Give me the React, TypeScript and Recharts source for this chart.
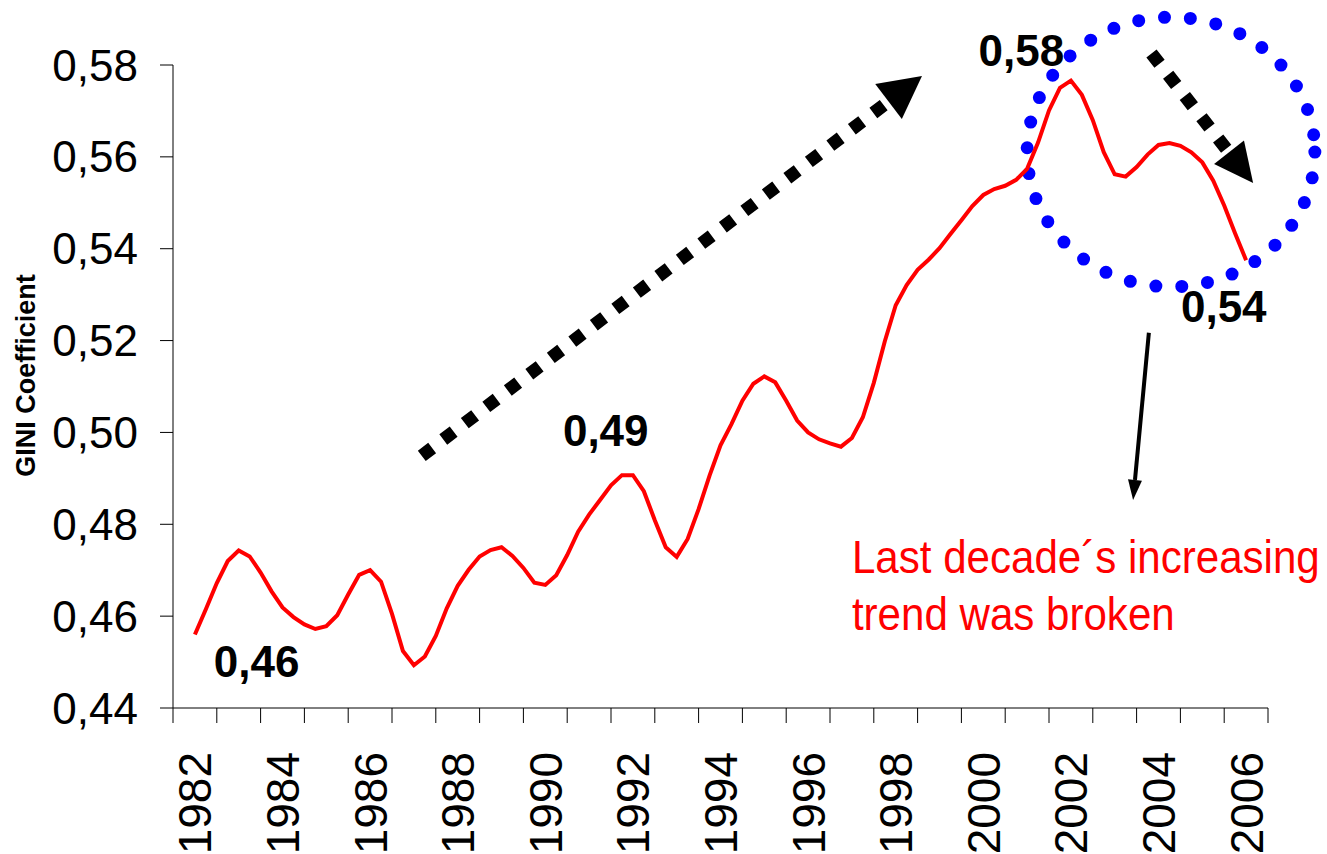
import React from "react";
import { LineChart, Line, XAxis, YAxis, ReferenceLine, ReferenceDot, ReferenceArea } from "recharts";

// GINI coefficient, quarterly readings starting 1982
const startYear = 1982;
const giniQuarterly = [
  0.456, 0.4615, 0.4672, 0.472,
  0.4743, 0.473, 0.4695, 0.4654,
  0.4619, 0.4598, 0.4582, 0.4572,
  0.4578, 0.4602, 0.4647, 0.469,
  0.47, 0.4675, 0.4605, 0.4524,
  0.4493, 0.4512, 0.4557, 0.4617,
  0.4666, 0.4701, 0.473, 0.4744,
  0.475, 0.4731, 0.4705, 0.4673,
  0.4668, 0.4689, 0.4733, 0.4784,
  0.4821, 0.4853, 0.4885, 0.4907,
  0.4907, 0.4872, 0.4809, 0.475,
  0.4729, 0.4768, 0.4833, 0.4906,
  0.4972, 0.5018, 0.5069, 0.5106,
  0.5122, 0.5109, 0.5069, 0.5026,
  0.5, 0.4985, 0.4976, 0.4969,
  0.4988, 0.5033, 0.5108, 0.5198,
  0.5277, 0.5321, 0.5354, 0.5376,
  0.5401, 0.5432, 0.5462, 0.5493,
  0.5517, 0.553, 0.5537, 0.555,
  0.5574, 0.5631, 0.5701, 0.575,
  0.5766, 0.5735, 0.568, 0.561,
  0.5562, 0.5557, 0.5578, 0.5605,
  0.5626, 0.563, 0.5624, 0.561,
  0.5588, 0.5548, 0.5494, 0.5433,
  0.5375,
];

const years = [
  1982, 1983, 1984, 1985, 1986, 1987, 1988, 1989, 1990, 1991, 1992, 1993,
  1994, 1995, 1996, 1997, 1998, 1999, 2000, 2001, 2002, 2003, 2004, 2005, 2006,
];
const labelYears = [1982, 1984, 1986, 1988, 1990, 1992, 1994, 1996, 1998, 2000, 2002, 2004, 2006];
const yTicks = [0.44, 0.46, 0.48, 0.5, 0.52, 0.54, 0.56, 0.58];

// callouts
const peakLabels = [
  { t: 1983.41, v: 0.4503, text: "0,46" },
  { t: 1991.38, v: 0.5006, text: "0,49" },
  { t: 2000.87, v: 0.5833, text: "0,58" },
  { t: 2005.49, v: 0.5276, text: "0,54" },
];
const noteLines = [
  { t: 1997.0, v: 0.4694, text: "Last decade\u00b4s increasing" },
  { t: 1997.0, v: 0.457, text: "trend was broken" },
];

const data = giniQuarterly.map((g, i) => ({ t: startYear + i / 4, gini: g }));
const yearEdges = [...years.map((y) => y - 0.5), years[years.length - 1] + 0.5];
const xDomain = [yearEdges[0], yearEdges[yearEdges.length - 1]];

const FONT = "'Liberation Sans', Arial, sans-serif";

const dottedArrow = (headLen: number, headHalf: number) => (p: any) => {
  const { x1, y1, x2, y2 } = p;
  const dx = x2 - x1;
  const dy = y2 - y1;
  const len = Math.hypot(dx, dy);
  const ux = dx / len;
  const uy = dy / len;
  const bx = x2 - ux * headLen;
  const by = y2 - uy * headLen;
  const nx = -uy;
  const ny = ux;
  return (
    <g>
      <line x1={x1} y1={y1} x2={bx} y2={by} stroke="#000" strokeWidth={13} strokeDasharray="13 14" />
      <polygon
        points={`${x2},${y2} ${bx + nx * headHalf},${by + ny * headHalf} ${bx - nx * headHalf},${by - ny * headHalf}`}
        fill="#000"
      />
    </g>
  );
};

const thinArrow = (p: any) => {
  const { x1, y1, x2, y2 } = p;
  const dx = x2 - x1;
  const dy = y2 - y1;
  const len = Math.hypot(dx, dy);
  const ux = dx / len;
  const uy = dy / len;
  const bx = x2 - ux * 20;
  const by = y2 - uy * 20;
  return (
    <g>
      <line x1={x1} y1={y1} x2={bx} y2={by} stroke="#000" strokeWidth={4} />
      <polygon points={`${x2},${y2} ${bx - uy * 7},${by + ux * 7} ${bx + uy * 7},${by - ux * 7}`} fill="#000" />
    </g>
  );
};

const YearTick = (props: any) => {
  const { x, y, payload } = props;
  return (
    <text
      x={x}
      y={y}
      dy="0.36em"
      textAnchor="end"
      transform={`rotate(-90, ${x}, ${y})`}
      fontSize={46}
      fontFamily={FONT}
      fill="#000"
    >
      {payload.value}
    </text>
  );
};

export default function App() {
  return (
    <div style={{ position: "absolute", left: 0, top: 0, background: "#fff" }}>
      <LineChart width={1327} height={854} data={data} margin={{ top: 65, right: 59, bottom: 0, left: 0 }}>
        <XAxis
          type="number"
          dataKey="t"
          domain={xDomain}
          ticks={yearEdges}
          interval={0}
          tick={{ fontSize: 0, fill: "none" }}
          tickFormatter={() => ""}
          height={15}
          tickSize={15}
          tickMargin={0}
          stroke="#000"
          allowDataOverflow
        />
        <XAxis
          xAxisId="labels"
          type="number"
          dataKey="t"
          domain={xDomain}
          ticks={labelYears}
          interval={0}
          height={131}
          axisLine={false}
          tickLine={false}
          tickSize={0}
          tickMargin={29}
          tick={<YearTick />}
        />
        <YAxis
          type="number"
          domain={[0.44, 0.58]}
          ticks={yTicks}
          interval={0}
          width={173}
          tickSize={13}
          tickMargin={22}
          stroke="#000"
          allowDataOverflow
          tick={{ fontSize: 44, fontFamily: FONT, fill: "#000" }}
          tickFormatter={(v: number) => v.toFixed(2).replace(".", ",")}
          label={(p: any) => {
            const vb = p.viewBox || { x: 0, y: 65, height: 643 };
            const cx = vb.x + 25;
            const cy = vb.y + vb.height / 2 - 11;
            return (
              <text
                x={cx}
                y={cy}
                dy="0.36em"
                textAnchor="middle"
                transform={`rotate(-90, ${cx}, ${cy})`}
                fontSize={27}
                fontWeight="bold"
                fontFamily={FONT}
                fill="#000"
              >
                GINI Coefficient
              </text>
            );
          }}
        />
        <Line
          type="linear"
          dataKey="gini"
          stroke="#ff0000"
          strokeWidth={4}
          dot={false}
          isAnimationActive={false}
        />
        <ReferenceArea
          x1={2001.0}
          x2={2007.57}
          y1={0.5317}
          y2={0.5904}
          ifOverflow="visible"
          shape={(p: any) => (
            <ellipse
              cx={p.x + p.width / 2}
              cy={p.y + p.height / 2}
              rx={p.width / 2}
              ry={p.height / 2}
              fill="none"
              stroke="#0000ff"
              strokeWidth={13}
              strokeDasharray="0 26"
              strokeLinecap="round"
            />
          )}
        />
        <ReferenceLine
          segment={[
            { x: 1987.18, y: 0.4949 },
            { x: 1998.6, y: 0.5776 },
          ]}
          ifOverflow="visible"
          shape={dottedArrow(42, 22)}
        />
        <ReferenceLine
          segment={[
            { x: 2003.84, y: 0.5825 },
            { x: 2006.16, y: 0.5543 },
          ]}
          ifOverflow="visible"
          shape={dottedArrow(39, 19)}
        />
        <ReferenceLine
          segment={[
            { x: 2003.78, y: 0.5217 },
            { x: 2003.42, y: 0.4853 },
          ]}
          ifOverflow="visible"
          shape={thinArrow}
        />
        {peakLabels.map((l) => (
          <ReferenceDot
            key={l.text}
            x={l.t}
            y={l.v}
            ifOverflow="visible"
            shape={(p: any) => (
              <text
                x={p.cx}
                y={p.cy}
                dy="0.36em"
                textAnchor="middle"
                fontSize={44}
                fontWeight="bold"
                fontFamily={FONT}
                fill="#000"
              >
                {l.text}
              </text>
            )}
          />
        ))}
        {noteLines.map((l) => (
          <ReferenceDot
            key={l.text}
            x={l.t}
            y={l.v}
            ifOverflow="visible"
            shape={(p: any) => (
              <text
                transform={`translate(${p.cx}, ${p.cy}) scale(0.915, 1)`}
                textAnchor="start"
                fontSize={46}
                fontFamily={FONT}
                fill="#ff0000"
              >
                {l.text}
              </text>
            )}
          />
        ))}
      </LineChart>
    </div>
  );
}
